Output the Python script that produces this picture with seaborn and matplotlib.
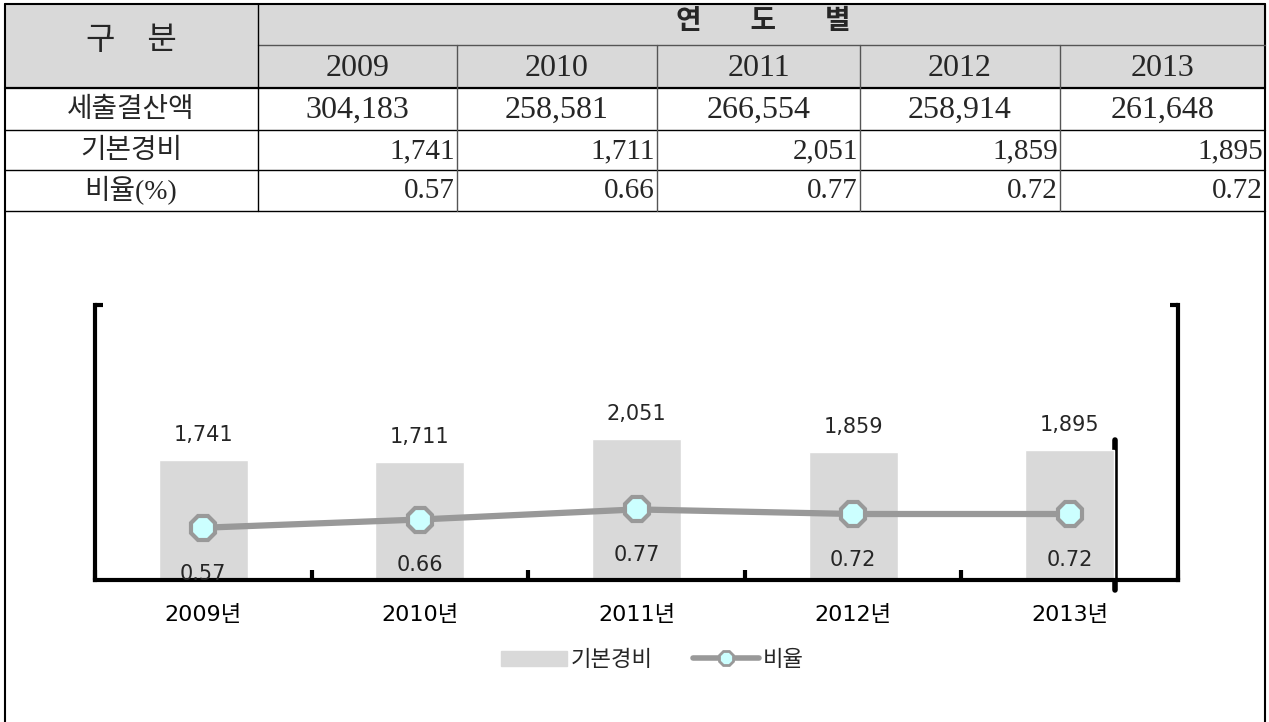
import matplotlib
matplotlib.use("Agg")
import matplotlib.pyplot as plt
import seaborn as sns
from matplotlib.patches import Patch, Rectangle
from matplotlib.lines import Line2D

years = ["2009", "2010", "2011", "2012", "2013"]
year_labels = ["2009년", "2010년", "2011년", "2012년", "2013년"]
settlement = [304183, 258581, 266554, 258914, 261648]
basic_cost = [1741, 1711, 2051, 1859, 1895]
ratio = [0.57, 0.66, 0.77, 0.72, 0.72]

sns.set_style("white")
plt.rcParams["font.family"] = ["DejaVu Sans", "Noto Sans CJK KR"]
serif = ["Liberation Serif", "Noto Sans CJK KR"]

W, H = 1269, 722
fig = plt.figure(figsize=(W / 100, H / 100), dpi=100)

# overlay axes in pixel coordinates for the table and frame
ov = fig.add_axes([0, 0, 1, 1])
ov.set_xlim(0, W)
ov.set_ylim(H, 0)
ov.axis("off")

gray = "#d9d9d9"
ov.add_patch(Rectangle((5, 4), 1260, 84, color=gray, zorder=0))

# outer frame
ov.plot([5, 5], [4, 722], color="black", lw=1.5)
ov.plot([1265, 1265], [4, 722], color="black", lw=1.5)
ov.plot([5, 1265], [4, 4], color="black", lw=1.5)

col_edges = [258, 457, 657, 860, 1060, 1265]
row_lines = [130, 170, 211]
ov.plot([258, 1265], [45, 45], color="#555555", lw=1)
ov.plot([5, 1265], [88, 88], color="black", lw=1.6)
for y in row_lines:
    ov.plot([5, 1265], [y, y], color="black", lw=1)
ov.plot([258, 258], [4, 211], color="black", lw=1)
for x in col_edges[1:-1]:
    ov.plot([x, x], [45, 211], color="#555555", lw=1)

ov.text(131, 42, "구    분", ha="center", va="center", fontsize=23, family=serif)
ov.text(763, 22, "연       도       별", ha="center", va="center", fontsize=20,
        family=serif, fontweight="bold")
for i, yr in enumerate(years):
    cx = (col_edges[i] + col_edges[i + 1]) / 2
    ov.text(cx, 68, yr, ha="center", va="center", fontsize=23, family=serif)
    ov.text(cx, 110, f"{settlement[i]:,}", ha="center", va="center",
            fontsize=23, family=serif)
    ov.text(col_edges[i + 1] - 2, 151, f"{basic_cost[i]:,}", ha="right",
            va="center", fontsize=21, family=serif)
    ov.text(col_edges[i + 1] - 2, 191, f"{ratio[i]:.2f}", ha="right",
            va="center", fontsize=21, family=serif)

ov.text(131, 110, "세출결산액", ha="center", va="center", fontsize=20, family=serif)
ov.text(131, 151, "기본경비", ha="center", va="center", fontsize=20, family=serif)
ov.text(131, 191, "비율(%)", ha="center", va="center", fontsize=20, family=serif)

# chart
left, right, top, bottom = 95, 1178, 305, 580
ax = fig.add_axes([left / W, 1 - bottom / H, (right - left) / W, (bottom - top) / H])
ax.patch.set_alpha(0)
sns.barplot(x=year_labels, y=basic_cost, color=gray, width=0.41,
            saturation=1, ax=ax, zorder=1)
ax.set_ylim(0, 4000)
ax.set_xlim(-0.5, 4.5)
for i, v in enumerate(basic_cost):
    ax.text(i, v + 220, f"{v:,}", ha="center", va="bottom", fontsize=15)

ax2 = ax.twinx()
sns.pointplot(x=year_labels, y=ratio, color="#999999", ax=ax2, errorbar=None)
for ln in ax2.lines:
    ln.set_linewidth(4.5)
    ln.set_marker("8")
    ln.set_markersize(18)
    ln.set_markerfacecolor("#ccffff")
    ln.set_markeredgecolor("#999999")
    ln.set_markeredgewidth(3)
ax2.set_ylim(0, 3)
ax2.set_xlim(-0.5, 4.5)
for i, v in enumerate(ratio):
    ax2.annotate(f"{v:.2f}", (i, v), xytext=(0, -33), textcoords="offset points",
                 ha="center", va="center", fontsize=15, clip_on=True)

for a in (ax, ax2):
    a.set_xlabel("")
    a.set_ylabel("")
    a.spines["top"].set_visible(False)
    for s in a.spines.values():
        s.set_linewidth(3)
        s.set_color("black")
ax2.spines["left"].set_visible(False)
ax2.spines["bottom"].set_visible(False)
ax.spines["right"].set_visible(False)

ax.set_yticks([4000])
ax.set_yticklabels([])
ax.tick_params(axis="y", direction="in", length=6, width=3, left=True, color="black")
ax2.set_yticks([3])
ax2.set_yticklabels([])
ax2.tick_params(axis="y", direction="in", length=6, width=3, right=True, color="black")

ax.set_xticks([-0.5, 0.5, 1.5, 2.5, 3.5, 4.5], minor=False)
ax.set_xticklabels([])
ax.set_xticks(range(5), minor=True)
ax.set_xticklabels(year_labels, minor=True, fontsize=16)
ax.tick_params(axis="x", which="major", direction="in", length=7, width=3,
               bottom=True, color="black")
ax.tick_params(axis="x", which="minor", length=0, pad=18, labelcolor="black")
ax2.tick_params(axis="x", which="both", length=0)

# thick vertical stroke at the right of the last bar
ov.plot([1115, 1115], [440, 590], color="black", lw=4)

handles = [Patch(color=gray, label="기본경비"),
           Line2D([], [], color="#999999", lw=4, marker="8", markersize=11,
                  markerfacecolor="#ccffff", markeredgecolor="#999999",
                  markeredgewidth=2, label="비율")]
fig.legend(handles=handles, loc="center", bbox_to_anchor=(652 / W, 1 - 660 / H),
           ncol=2, frameon=False, fontsize=16, handlelength=3.0,
           handletextpad=0.15, columnspacing=1.8)

fig.savefig("out.png", dpi=100)
